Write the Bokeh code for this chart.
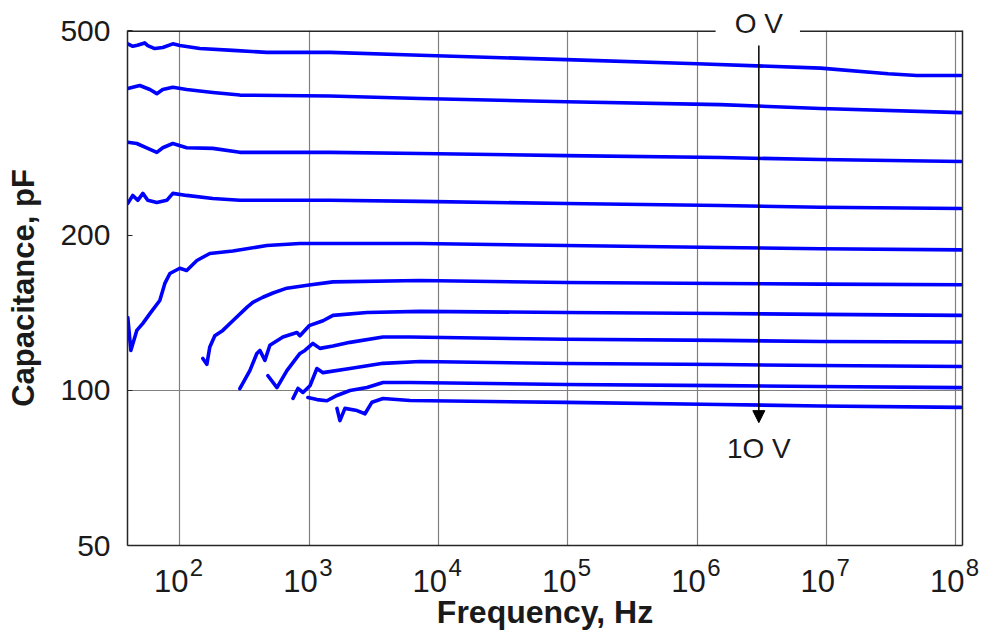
from bokeh.plotting import figure
from bokeh.models import FixedTicker, LogAxis, Label, Arrow, NormalHead
from bokeh.embed import file_html
from bokeh.resources import INLINE

# ---- C-f sweeps, bias from 0 V (top) to 10 V (bottom) ----
freq_0v = [39.6, 43.3, 47, 53.5, 56.5, 64, 73.8, 88.3, 100, 142.8, 257, 471, 1448, 7210,
           97300, 1.0e6, 9e6, 3e7, 5e7, 1.1e8]
cap_0v = [471, 466, 468, 473, 467.5, 461.2, 463.3, 471, 467.5, 461.2, 457.4, 453.5, 453.5,
          447.5, 439, 431, 422.6, 412, 409, 409]

freq_1v = [39.6, 49, 58.7, 66.4, 73.8, 88.3, 113, 180, 291, 1448, 7210, 97300, 1.51e6, 9e6,
           1.1e8]
cap_1v = [386, 391, 384, 377, 384, 388, 384, 379, 374.6, 373, 369, 363.6, 359, 352.7, 346.3]

freq_2v = [39.6, 46.5, 56.5, 66.4, 73.8, 88.3, 113, 180, 291, 1448, 7210, 97300, 1.51e6, 9e6,
           1.1e8]
cap_2v = [303.3, 301.7, 295.2, 290, 296, 301.7, 296, 295.2, 290, 290, 288.5, 285.8, 283.3,
          280.8, 278.3]

freq_3v = [39.6, 43.3, 47.3, 51.8, 56.5, 66.4, 79.3, 88.3, 113, 180, 291, 1448, 7210, 97300,
           1.51e6, 9e6, 1.1e8]
cap_3v = [230.8, 239.2, 234, 241.4, 234, 231.8, 234, 241.4, 239.2, 235.9, 234, 234, 232.9,
          230.7, 228.6, 226.8, 225.6]

freq_4v = [39.6, 41.8, 46.5, 51.8, 58.7, 70, 76.6, 83.8, 100, 113, 135.5, 170.6, 257, 471,
           849, 7210, 97300, 1.51e6, 9e6, 1.1e8]
cap_4v = [138.6, 119.6, 130.8, 135, 141, 149.5, 161.4, 168.7, 172.7, 171, 178.8, 184.5, 186.6,
          191.2, 192.9, 192.9, 191.2, 189.5, 188.5, 187.5]

freq_5v = [150.6, 161.8, 170.6, 186.5, 215, 257, 330, 367, 439, 525, 673, 1000, 1529, 7210,
           97300, 1.51e6, 9e6, 1.1e8]
cap_5v = [115.4, 112.4, 121.5, 127.7, 130.8, 136.6, 145, 148.3, 151.7, 154.6, 158, 160.2,
          162.5, 163.5, 162, 161.3, 160.9, 160.4]

freq_6v = [291, 348, 394, 416, 455, 497, 627, 805, 849, 1000, 1280, 1529, 2800, 7210, 97300,
           1.51e6, 9e6, 1.1e8]
cap_6v = [100.8, 109.3, 118, 119.6, 114.4, 122.4, 127, 129.6, 127.7, 133.6, 136.6, 139.9,
          141.7, 142.4, 141.7, 141.1, 140.5, 139.9]

freq_7v = [480, 564, 673, 849, 927, 1070, 1212, 1529, 2069, 3725, 6026, 97300, 1.51e6, 9e6,
           1.1e8]
cap_7v = [106.8, 101.3, 109.3, 118, 119.6, 123.4, 120.7, 122, 124, 127, 127, 125.7, 125.1,
          124.5, 124.2]

freq_8v = [750, 819, 896, 1015, 1148, 1280, 2069, 3725, 7210, 97300, 1.51e6, 9e6, 1.1e8]
cap_8v = [96.5, 100.9, 99.1, 102.1, 110.3, 108.3, 110.3, 112.9, 113.8, 112.8, 112.3, 111.8,
          111.3]

freq_9v = [979, 1150, 1373, 1641, 2069, 2800, 3725, 6026, 97300, 1.51e6, 9e6, 1.1e8]
cap_9v = [96.9, 96, 95.5, 97.8, 100, 101.3, 103.6, 103.6, 102.7, 102.2, 101.8, 101.3]

freq_10v = [1641, 1730, 1892, 2344, 2704, 3061, 3725, 6026, 97300, 1.51e6, 9e6, 1.1e8]
cap_10v = [92.3, 87.4, 92.3, 91.4, 90.1, 94.9, 96.5, 95.6, 94.8, 93.9, 93.3, 92.7]

sweeps = [(freq_0v, cap_0v), (freq_1v, cap_1v), (freq_2v, cap_2v), (freq_3v, cap_3v),
          (freq_4v, cap_4v), (freq_5v, cap_5v), (freq_6v, cap_6v), (freq_7v, cap_7v),
          (freq_8v, cap_8v), (freq_9v, cap_9v), (freq_10v, cap_10v)]

x_decades = [1e2, 1e3, 1e4, 1e5, 1e6, 1e7, 1e8]
x_exponents = ["2", "3", "4", "5", "6", "7", "8"]
y_ticks = [50, 100, 200, 500]
y_tick_labels = ["50", "100", "200", "500"]

x_lo, x_hi = 39.4, 1.127e8
y_lo, y_hi = 50, 500

bias_arrow_freq = 3e6
bias_top_label = "O V"
bias_bottom_label = "1O V"
label_gap = (1.39e6, 6.24e6)   # break in the top edge behind the "O V" label

SANS = "Liberation Sans, Arial, sans-serif"
INK = "#1a1a1a"
FRAME = "#262626"

p = figure(x_axis_type="log", y_axis_type="log",
           x_range=(x_lo, x_hi), y_range=(y_lo, y_hi),
           frame_width=835, frame_height=515,
           min_border_left=127, min_border_right=20, min_border_top=30, min_border_bottom=94,
           output_backend="svg", toolbar_location=None,
           background_fill_color="white", border_fill_color="white",
           outline_line_color=None)

# grid: every frequency decade, and the 100 pF line
p.xgrid.ticker = FixedTicker(ticks=x_decades)
p.ygrid.ticker = FixedTicker(ticks=[100])
for g in (p.xgrid, p.ygrid):
    g.grid_line_color = "#808080"
    g.grid_line_width = 1.2

for f, c in sweeps:
    p.line(f, c, line_color="#0000ff", line_width=3.6, line_join="round", line_cap="round")

# top edge of the box, broken where the "O V" label sits
p.segment(x0=[x_lo, label_gap[1]], x1=[label_gap[0], x_hi], y0=[y_hi, y_hi], y1=[y_hi, y_hi],
          line_color=FRAME, line_width=3)

# decade labels written as "10" with a raised exponent: the exponents sit on the
# bottom axis (left-padded so they land right of the "10"), the mantissas on a
# second axis just below (right-padded so they sit left of the tick)
PAD_DIGIT = "\u2007"
PAD_SPACE = "\u00a0"

xa = p.xaxis[0]
xa.ticker = FixedTicker(ticks=x_decades)
xa.major_label_overrides = {t: PAD_DIGIT * 2 + PAD_SPACE + e
                            for t, e in zip(x_decades, x_exponents)}
xa.major_label_text_font = SANS
xa.major_label_text_font_size = "24px"
xa.major_label_text_color = INK
xa.major_label_standoff = 2
xa.major_tick_line_color = None
xa.minor_tick_line_color = None
xa.axis_line_color = FRAME
xa.axis_line_width = 1.5

xbase = LogAxis(ticker=FixedTicker(ticks=x_decades),
                major_label_overrides={t: "10" + PAD_DIGIT for t in x_decades},
                major_label_text_font=SANS,
                major_label_text_font_size="31px", major_label_text_color=INK,
                major_label_standoff=-26,
                major_tick_line_color=None, minor_tick_line_color=None,
                axis_line_color=None,
                axis_label="Frequency, Hz", axis_label_text_font=SANS,
                axis_label_text_font_style="bold", axis_label_text_font_size="32px",
                axis_label_text_color=INK, axis_label_standoff=-8)
p.add_layout(xbase, "below")

ya = p.yaxis[0]
ya.ticker = FixedTicker(ticks=y_ticks)
ya.major_label_overrides = {t: s for t, s in zip(y_ticks, y_tick_labels)}
ya.major_label_text_font = SANS
ya.major_label_text_font_size = "30px"
ya.major_label_text_color = INK
ya.major_label_standoff = 17
ya.major_tick_in = 5
ya.major_tick_out = 0
ya.minor_tick_line_color = None
ya.axis_line_color = FRAME
ya.axis_line_width = 1.5
ya.major_tick_line_color = FRAME
ya.axis_label = "Capacitance, pF"
ya.axis_label_text_font = SANS
ya.axis_label_text_font_style = "bold"
ya.axis_label_text_font_size = "31px"
ya.axis_label_text_color = INK
ya.axis_label_standoff = 16

# right edge of the box
right = LogAxis(ticker=FixedTicker(ticks=y_ticks),
                major_label_overrides={t: "" for t in y_ticks},
                major_tick_in=0, major_tick_out=0, minor_tick_line_color=None,
                axis_line_color=FRAME, axis_line_width=1.5)
p.add_layout(right, "right")

# "O V" above the frame, at the arrow's frequency
top = LogAxis(ticker=FixedTicker(ticks=[bias_arrow_freq]),
              major_label_overrides={bias_arrow_freq: bias_top_label},
              major_label_text_font=SANS, major_label_text_font_size="28px",
              major_label_text_color=INK, major_label_standoff=-8,
              major_tick_line_color=None, minor_tick_line_color=None,
              major_tick_in=0, major_tick_out=0, axis_line_color=None)
p.add_layout(top, "above")

# bias direction arrow
p.add_layout(Arrow(end=NormalHead(size=12, fill_color="black", line_color="black"),
                   x_start=bias_arrow_freq, y_start=467.5,
                   x_end=bias_arrow_freq, y_end=86.6,
                   line_color="black", line_width=1.5))
p.add_layout(Label(x=bias_arrow_freq, y=77.3, text=bias_bottom_label, text_align="center",
                   text_baseline="middle", text_font=SANS, text_font_size="28px",
                   text_color=INK))

open("out.html", "w").write(file_html(p, INLINE))
